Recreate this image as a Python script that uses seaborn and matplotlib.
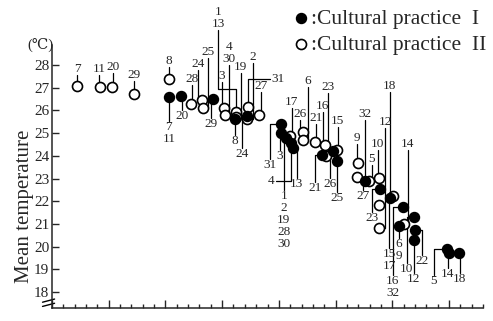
import seaborn as sns
import pandas as pd
import matplotlib.pyplot as plt
from matplotlib.ticker import MultipleLocator

# Cultural practice I (filled circles)
labels_1 = ["7\n11", "20", "29", "8", "24", "31", "3", "1\n2\n19\n28\n30", "4", "13",
            "21", "26", "25", "27", "23", "15\n17", "16\n32", "6\n9", "10", "22",
            "12", "5", "14", "18"]
x_1 = [10.31, 11.37, 14.19, 16.12, 17.18, 20.18, 20.18, 20.62, 21.06, 21.23,
       23.79, 24.76, 25.11, 27.58, 28.90, 29.80, 30.93, 30.57, 31.89, 31.98,
       31.89, 34.80, 34.98, 35.86]
temp_1 = [26.59, 26.63, 26.50, 25.62, 25.75, 25.40, 25.00, 24.78, 24.56, 24.34,
          24.04, 24.21, 23.77, 22.89, 22.54, 22.15, 21.74, 20.91, 21.30, 20.73,
          20.29, 19.89, 19.72, 19.72]

# Cultural practice II (open circles)
labels_2 = ["7", "11", "20", "29", "8", "28", "24", "25", "3", "4\n30", "1\n13", "19",
            "31", "2", "27", "17", "26", "6", "21", "16", "23", "15", "9", "32", "5",
            "10", "12", "18", "14", ""]
x_2 = [2.20, 4.23, 5.29, 7.22, 10.31, 12.25, 13.22, 13.30, 15.15, 15.24, 16.21, 16.21,
       17.27, 17.18, 18.24, 20.97, 22.11, 22.11, 23.17, 24.05, 24.14, 25.11, 26.96, 26.87,
       27.93, 28.81, 28.81, 30.04, 31.01, 28.81]
temp_2 = [27.07, 27.03, 27.03, 26.72, 27.38, 26.28, 26.46, 26.11, 26.11, 25.80, 25.93, 25.71,
          26.15, 25.62, 25.80, 24.87, 25.05, 24.70, 24.61, 24.48, 23.99, 24.26, 23.68, 23.07,
          22.89, 23.02, 20.82, 22.23, 21.00, 21.83]

# label placement (layout only): (mode, label x, label y[, knee y])
lead_1 = [("v", 10.31, 25.53), ("v", 11.5, 26.02), ("v", 14.0, 25.67), ("v", 16.12, 24.92),
          ("v", 16.74, 24.34), ("v", 19.2, 23.85), ("v", 20.09, 24.26), ("v", 20.44, 22.49),
          ("s", 19.74, 22.88), ("v", 21.59, 23.02), ("v", 23.17, 22.85), ("v", 24.49, 23.02),
          ("v", 25.11, 22.41), ("v", 27.4, 22.49), ("v", 28.2, 21.52), ("v", 29.75, 19.94),
          ("v", 30.04, 18.75), ("v", 30.57, 20.38), ("v", 31.28, 19.28), ("v", 32.6, 19.63),
          ("v", 31.89, 18.84), ("v", 33.66, 18.75), ("v", 34.89, 19.06), ("v", 35.95, 18.84)]
lead_2 = [("v", 2.2, 27.56), ("v", 4.14, 27.56), ("v", 5.37, 27.65), ("v", 7.22, 27.30),
          ("v", 10.31, 27.91), ("v", 12.33, 27.12), ("v", 12.9, 27.78), ("v", 13.75, 28.31),
          ("v", 14.98, 27.25), ("v", 15.6, 28.0), ("k", 14.63, 29.54, 26.94), ("v", 16.65, 27.65),
          ("s", 19.2, 27.38), ("v", 17.71, 28.09), ("v", 18.41, 26.81), ("v", 21.15, 26.11),
          ("v", 21.85, 25.58), ("v", 22.56, 27.03), ("v", 23.26, 25.40), ("v", 23.85, 25.93),
          ("v", 24.3, 26.77), ("v", 25.2, 25.27), ("v", 26.87, 24.52), ("v", 27.58, 25.58),
          ("v", 28.19, 23.6), ("v", 28.72, 24.26), ("v", 29.4, 25.22), ("v", 29.78, 26.81),
          ("v", 31.37, 24.26), None]

sns.set_style("ticks")
plt.rcParams['font.family'] = ['Liberation Serif', 'DejaVu Serif', 'DejaVu Sans']

df1 = pd.DataFrame({"x": x_1, "temp": temp_1})
df2 = pd.DataFrame({"x": x_2, "temp": temp_2})

fig = plt.figure(figsize=(4.93, 3.21), dpi=100)
ax = fig.add_axes([52 / 493, 13 / 321, 431 / 493, 263 / 321])

sns.scatterplot(data=df2, x="x", y="temp", ax=ax, s=52, facecolor="white",
                edgecolor="black", linewidth=1.2, zorder=3, label=":Cultural practice  II")
sns.scatterplot(data=df1, x="x", y="temp", ax=ax, s=52, color="black",
                edgecolor="black", linewidth=1.0, zorder=4, label=":Cultural practice  I")


def draw_labels(xs, ys, labels, leads, below):
    for px, py, lab, ld in zip(xs, ys, labels, leads):
        if ld is None or lab == "":
            continue
        mode, lx, ly = ld[0], ld[1], ld[2]
        if mode == "k":
            path = [(px, py), (px, ld[3]), (lx, ld[3]), (lx, ly)]
        elif mode == "s":
            path = [(px, py), (px, ly), (lx, ly)]
        else:
            path = [(px, py), (lx, py), (lx, ly)]
        ax.plot([p[0] for p in path], [p[1] for p in path], color="black",
                lw=0.9, zorder=2, clip_on=False)
        if mode == "s":
            ha = "right" if lx < px else "left"
            off = -0.15 if lx < px else 0.15
            ax.text(lx + off, ly, lab, ha=ha, va="center", fontsize=9.5)
        else:
            ax.text(lx, ly, lab, ha="center", va="top" if below else "bottom",
                    fontsize=9.5, linespacing=1.0)


draw_labels(x_1, temp_1, labels_1, lead_1, True)
draw_labels(x_2, temp_2, labels_2, lead_2, False)

ax.set_xlim(0, 38)
ax.set_ylim(17.3, 28.88)
ax.set_yticks(range(18, 29))
ax.xaxis.set_major_locator(MultipleLocator(5))
ax.xaxis.set_minor_locator(MultipleLocator(1))
ax.set_xticklabels([])
ax.tick_params(axis="y", direction="in", length=5, width=1, labelsize=11, pad=2)
ax.tick_params(axis="x", which="major", direction="in", length=6, width=1)
ax.tick_params(axis="x", which="minor", direction="in", length=3, width=1)
ax.set_xlabel("")
ax.set_ylabel("Mean temperature", fontsize=15)
ax.yaxis.set_label_coords(-0.042, 0.385)
sns.despine(ax=ax)
for sp in ax.spines.values():
    sp.set_linewidth(1.1)

# axis break mark on the y axis
for dy in (0.012, 0.028):
    ax.plot([-0.022, 0.006], [dy - 0.006, dy + 0.006], transform=ax.transAxes,
            color="black", lw=1, clip_on=False)

fig.text(40 / 493, 1 - 45 / 321, "(℃)", ha="center", va="center", fontsize=10.5)

h, l = ax.get_legend_handles_labels()
ax.legend(h[::-1], l[::-1], loc="upper left", bbox_to_anchor=(277 / 493, 1.012),
          bbox_transform=fig.transFigure, frameon=False, fontsize=15.5,
          handletextpad=0.0, handlelength=1.0, labelspacing=0.25, borderaxespad=0.2)

fig.savefig("out.png", dpi=100)
